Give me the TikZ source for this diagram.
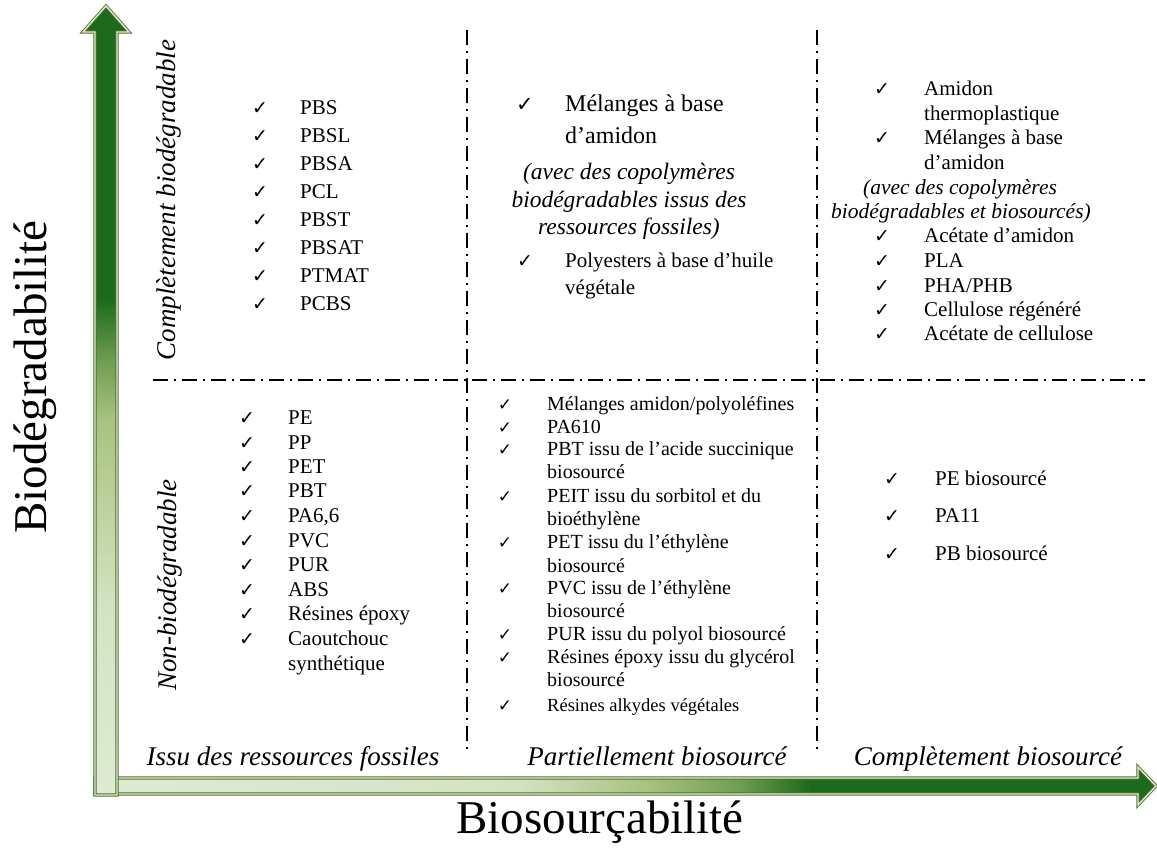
\documentclass[tikz,border=0pt]{standalone}
\usepackage{fontspec}
\setmainfont{Liberation Serif}
\newfontfamily\djv{DejaVu Sans}
\definecolor{dkgreen}{HTML}{1C6B1C}
\definecolor{olivec}{HTML}{52702C}
\definecolor{ltgreen}{HTML}{DEEBD3}
\definecolor{gA}{HTML}{D2E3C2}
\definecolor{gB}{HTML}{A9C27F}
\definecolor{gC}{HTML}{6E9E50}
\pgfdeclareverticalshading{vshade}{100bp}{color(0bp)=(ltgreen); color(25bp)=(ltgreen); color(37bp)=(gA); color(48.8bp)=(gB); color(52.5bp)=(gC); color(56.4bp)=(dkgreen); color(100bp)=(dkgreen)}
\pgfdeclarehorizontalshading{hshade}{100bp}{color(0bp)=(ltgreen); color(25bp)=(ltgreen); color(45bp)=(gA); color(51bp)=(gB); color(55.4bp)=(gC); color(58.7bp)=(dkgreen); color(100bp)=(dkgreen)}
\tikzset{
  item/.style={anchor=base west, inner sep=0pt, font=\fontsize{21}{25}\selectfont},
  itemM/.style={item, font=\fontsize{20}{24}\selectfont},
  itemS/.style={item, font=\fontsize{18.5}{22}\selectfont},
  itemL/.style={item, font=\fontsize{24}{28}\selectfont},
  chk/.style={anchor=base, inner sep=0pt, font=\djv\fontsize{19}{22}\selectfont},
  chkS/.style={chk, font=\djv\fontsize{17}{20}\selectfont},
  chkL/.style={chk, font=\djv\fontsize{21}{24}\selectfont},
  axislab/.style={font=\fontsize{47}{56}\selectfont, inner sep=0pt},
  cat/.style={font=\itshape\fontsize{27}{32}\selectfont, inner sep=0pt},
  catb/.style={cat, anchor=base},
  note/.style={font=\itshape\fontsize{23.5}{28}\selectfont, inner sep=0pt, anchor=base},
  noteS/.style={note, font=\itshape\fontsize{21.5}{26}\selectfont},
  sep/.style={line width=1.7pt, dash pattern=on 15pt off 6pt on 2pt off 6pt},
  axisarrow/.style={draw=olivec, line width=0.9pt, double=ltgreen, double distance=1.4pt, line join=miter}
}
\begin{document}
\begin{tikzpicture}[x=1pt, y=-1pt]
\path[use as bounding box] (0,0) rectangle (1157,847);

% horizontal axis arrow
\path[shading=hshade, axisarrow]
  (95,778) -- (1138,778) -- (1138,767) -- (1156,786) -- (1138,805) -- (1138,794) -- (95,794) -- cycle;
% vertical axis arrow
\path[shading=vshade, axisarrow]
  (95,795) -- (95,32) -- (83,32) -- (106,6) -- (129,32) -- (117,32) -- (117,795) -- cycle;

% separators
\draw[sep] (467,30) -- (467,753);
\draw[sep] (817,30) -- (817,753);
\draw[sep] (153,380) -- (1145,380);

% axis labels
\node[axislab, rotate=90] (ylab) at (35,377) {Biodégradabilité};
\node[axislab] (xlab) at (600,822) {Biosourçabilité};

% row / column categories
\node[cat, rotate=90] (rowtop) at (169,200) {Complètement biodégradable};
\node[cat, rotate=90] (rowbot) at (170,585) {Non-biodégradable};
\node[catb] (col1) at (293,765) {Issu des ressources fossiles};
\node[catb] (col2) at (657,765) {Partiellement biosourcé};
\node[catb] (col3) at (988,765) {Complètement biosourcé};

% top-left cell
\foreach \yy/\tt [count=\i] in {107/PBS,135/PBSL,163/PBSA,191/PCL,219/PBST,247/PBSAT,275/PTMAT,303/PCBS}{
  \node[chk] (tlc\i) at (260,{\yy+7}) {✓};
  \node[item] (tl\i) at (300,{\yy+7}) {\tt};
}

% top-middle cell
\node[chkL] (tmc1) at (525,111) {✓};
\node[itemL] (tm1) at (565,111) {Mélanges à base};
\node[itemL] (tm1b) at (565,143) {d’amidon};
\node[note] (tmn1) at (629,179) {(avec des copolymères};
\node[note] (tmn2) at (629,207) {biodégradables issus des};
\node[note] (tmn3) at (629,234) {ressources fossiles)};
\node[chk] (tmc2) at (525,267) {✓};
\node[item] (tm2) at (565,267) {Polyesters à base d’huile};
\node[item] (tm2b) at (565,294) {végétale};

% top-right cell
\node[chk] (trc1) at (882,95) {✓};
\node[item] (tr1) at (924,95) {Amidon};
\node[item] (tr1b) at (924,120) {thermoplastique};
\node[chk] (trc2) at (882,144) {✓};
\node[item] (tr2) at (924,144) {Mélanges à base};
\node[item] (tr2b) at (924,169) {d’amidon};
\node[noteS] (trn1) at (960,194) {(avec des copolymères};
\node[noteS] (trn2) at (961,218) {biodégradables et biosourcés)};
\foreach \yy/\tt [count=\i from 3] in {235/{Acétate d’amidon},260/PLA,285/{PHA/PHB},309/{Cellulose régénéré},333/{Acétate de cellulose}}{
  \node[chk] (trc\i) at (882,{\yy+7}) {✓};
  \node[item] (tr\i) at (924,{\yy+7}) {\tt};
}

% bottom-left cell
\foreach \yy/\tt [count=\i] in {417/PE,442/PP,466/PET,490/PBT,515/{PA6,6},540/PVC,564/PUR,589/ABS,613/{Résines époxy},638/Caoutchouc}{
  \node[chk] (blc\i) at (247,{\yy+7}) {✓};
  \node[item] (bl\i) at (288,{\yy+7}) {\tt};
}
\node[item] (bl10b) at (288,670) {synthétique};

% bottom-middle cell
\foreach \yy/\tt [count=\i] in {404/{Mélanges amidon/polyoléfines},427/PA610,449/{PBT issu de l’acide succinique},496/{PEIT issu du sorbitol et du},542/{PET issu du l’éthylène},588/{PVC issu de l’éthylène},634/{PUR issu du polyol biosourcé},657/{Résines époxy issu du glycérol}}{
  \node[chkS] (bmc\i) at (505,{\yy+6.5}) {✓};
  \node[itemM] (bm\i) at (547,{\yy+6.5}) {\tt};
}
\node[itemM] (bm3b) at (547,478.5) {biosourcé};
\node[itemM] (bm4b) at (547,525.5) {bioéthylène};
\node[itemM] (bm5b) at (547,572.5) {biosourcé};
\node[itemM] (bm6b) at (547,617.5) {biosourcé};
\node[itemM] (bm8b) at (547,686.5) {biosourcé};
\node[chkS] (bmc9) at (505,711) {✓};
\node[itemS] (bm9) at (547,711) {Résines alkydes végétales};

% bottom-right cell
\foreach \yy/\tt [count=\i] in {478/{PE biosourcé},515/PA11,553/{PB biosourcé}}{
  \node[chk] (brc\i) at (892,{\yy+7}) {✓};
  \node[item] (br\i) at (935,{\yy+7}) {\tt};
}
\end{tikzpicture}
\end{document}
